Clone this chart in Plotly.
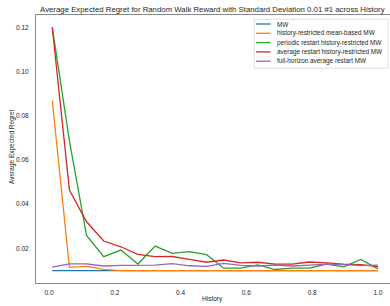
import numpy as np
import plotly.graph_objects as go

# ---- data ----
history = [0.01, 0.0621, 0.1142, 0.1663, 0.2184, 0.2705, 0.3226, 0.3747, 0.4268, 0.4789,
           0.5311, 0.5832, 0.6353, 0.6874, 0.7395, 0.7916, 0.8437, 0.8958, 0.9479, 1.0]

mw = [0.0099] * 20
hist_mean_mw = [0.0868, 0.0114, 0.0118, 0.0105, 0.0099, 0.0099, 0.0099, 0.0099, 0.0099, 0.0099,
                0.0099, 0.0099, 0.0099, 0.0099, 0.0099, 0.0099, 0.0099, 0.0099, 0.0099, 0.0099]
periodic_mw = [0.1200, 0.0686, 0.0258, 0.0162, 0.0192, 0.0129, 0.0210, 0.0177, 0.0185, 0.0171,
               0.0110, 0.0110, 0.0125, 0.0104, 0.0110, 0.0110, 0.0129, 0.0116, 0.0150, 0.0107]
avg_restart_mw = [0.1200, 0.0464, 0.0320, 0.0233, 0.0207, 0.0173, 0.0162, 0.0163, 0.0150, 0.0137,
                  0.0147, 0.0134, 0.0137, 0.0128, 0.0128, 0.0138, 0.0134, 0.0128, 0.0126, 0.0117]
full_horizon_mw = [0.0115, 0.0130, 0.0130, 0.0120, 0.0123, 0.0124, 0.0124, 0.0131, 0.0121, 0.0118,
                   0.0132, 0.0123, 0.0120, 0.0124, 0.0120, 0.0124, 0.0128, 0.0126, 0.0122, 0.0124]

series_names = ["MW", "history-restricted mean-based MW", "periodic restart history-restricted MW",
                "average restart history-restricted MW", "full-horizon average restart MW"]
series_values = [mw, hist_mean_mw, periodic_mw, avg_restart_mw, full_horizon_mw]
colors = ["#1f77b4", "#ff7f0e", "#2ca02c", "#d62728", "#9467bd"]

x_ticks = [0.0, 0.2, 0.4, 0.6, 0.8, 1.0]
y_ticks = [0.02, 0.04, 0.06, 0.08, 0.10, 0.12]

title = "Average Expected Regret for Random Walk Reward with Standard Deviation 0.01 #1 across History"

# ---- layout geometry (pixels) ----
W, H = 390, 306
L, R, T, B = 36.3, 390.0, 15.0, 283.0
FONT = "Liberation Sans, Arial, sans-serif"
TXT = "#262626"

def px_x(p):
    return (p - L) / (R - L)

def px_y(p):
    return (B - p) / (B - T)

fig = go.Figure()
for name, vals, col in zip(series_names, series_values, colors):
    fig.add_trace(go.Scatter(x=history, y=vals, mode="lines", name=name,
                             line=dict(color=col, width=1.3), showlegend=False))

# manual legend (matplotlib style compact legend)
shapes = [dict(type="rect", xref="paper", yref="paper",
               x0=px_x(254.3), x1=px_x(388.0), y0=px_y(68.3), y1=px_y(19.3),
               line=dict(color="#d5d5d5", width=0.8), fillcolor="rgba(255,255,255,0.85)",
               layer="above")]
annotations = []
entry_y = [24.0, 33.3, 42.6, 51.9, 61.2]
for name, col, ey in zip(series_names, colors, entry_y):
    shapes.append(dict(type="line", xref="paper", yref="paper",
                       x0=px_x(256.0), x1=px_x(270.7), y0=px_y(ey), y1=px_y(ey),
                       line=dict(color=col, width=1.3), layer="above"))
    annotations.append(dict(text=name, xref="paper", yref="paper", x=px_x(275.0), y=px_y(ey),
                            xanchor="left", yanchor="middle", showarrow=False,
                            font=dict(family=FONT, size=6.4, color=TXT)))

# axis titles as annotations placed like the reference
annotations.append(dict(text="History", xref="paper", yref="paper", x=px_x(213.0), y=px_y(298.5),
                        xanchor="center", yanchor="middle", showarrow=False,
                        font=dict(family=FONT, size=6.5, color=TXT)))
annotations.append(dict(text="Average Expected Regret", xref="paper", yref="paper",
                        x=px_x(12.3), y=px_y(146.0), textangle=-90,
                        xanchor="center", yanchor="middle", showarrow=False,
                        font=dict(family=FONT, size=6.5, color=TXT)))

fig.update_layout(
    width=W, height=H,
    margin=dict(l=L, r=W - R, t=T, b=H - B, pad=0, autoexpand=False),
    paper_bgcolor="white", plot_bgcolor="white",
    font=dict(family=FONT, size=6.5, color=TXT),
    title=dict(text=title, x=px_x(212.5), xref="paper", xanchor="center",
               y=1 - 9.0 / H, yref="container", yanchor="middle", automargin=False,
               font=dict(family=FONT, size=7.8, color=TXT)),
    shapes=shapes, annotations=annotations,
    showlegend=False,
)
fig.update_xaxes(range=[-0.0395, 1.0366], tickvals=x_ticks, tickformat=".1f",
                 showgrid=False, zeroline=False, showline=True, linecolor="#8a8a8a",
                 linewidth=1, mirror=True, ticks="", ticklabelstandoff=3, automargin=False)
fig.update_yaxes(range=[0.0043, 0.1256], tickvals=y_ticks, tickformat=".2f",
                 showgrid=False, zeroline=False, showline=True, linecolor="#8a8a8a",
                 linewidth=1, mirror=False, ticks="", ticklabelstandoff=5, automargin=False)

fig.write_html("out.html", config={"displayModeBar": False},
               post_script="document.body.style.margin='0';document.body.style.overflow='hidden';")
